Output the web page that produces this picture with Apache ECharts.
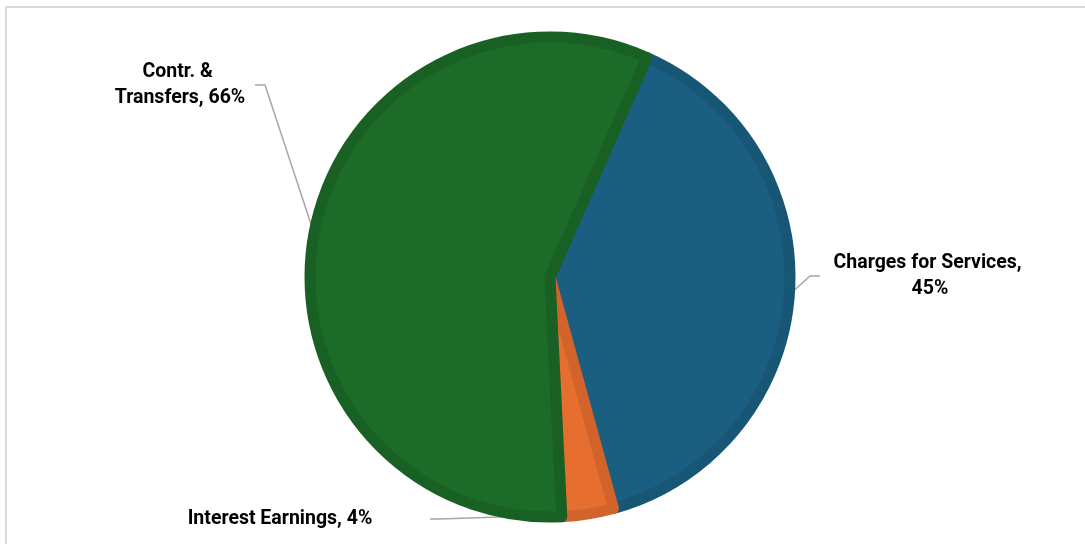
<!DOCTYPE html>
<html>
<head>
<meta charset="utf-8">
<script src="https://cdn.jsdelivr.net/npm/echarts@6/dist/echarts.min.js"></script>
<style>
  html, body { margin: 0; padding: 0; background: #fff; }
  #chart { width: 1085px; height: 544px; }
</style>
</head>
<body>
<div id="chart"></div>
<script>
// Revenue sources, shown as percentage shares
const categories = ['Charges for Services', 'Interest Earnings', 'Contr. & Transfers'];
const shares = [45, 4, 66];

// Slice fill and rim colours, in category order
const fills = ['#1a5f81', '#e66f30', '#1c6b28'];
const rims = ['#185676', '#d2632a', '#196024'];

// Where each label sits and how wide its text block may be
const labelSpots = {
  'Charges for Services': { x: 930, y: 276, width: 220 },
  'Interest Earnings': { x: 280, y: 519, width: 300 },
  'Contr. & Transfers': { x: 180, y: 85, width: 150 }
};

const chart = echarts.init(document.getElementById('chart'), null, { renderer: 'canvas' });

const data = categories.map((name, i) => ({
  name: name,
  value: shares[i],
  itemStyle: { color: fills[i], borderColor: rims[i] },
  label: { width: labelSpots[name].width }
}));

chart.setOption({
  animation: false,
  backgroundColor: '#ffffff',
  graphic: [{
    type: 'rect',
    shape: { x: 6, y: 7, width: 1100, height: 600 },
    style: { fill: 'none', stroke: '#d9d9d9', lineWidth: 2 },
    silent: true
  }],
  series: [{
    type: 'pie',
    center: [550, 277],
    radius: [0, 240],
    startAngle: 66.2,
    clockwise: true,
    data: data,
    itemStyle: { borderWidth: 11, borderJoin: 'round' },
    label: {
      show: true,
      formatter: p => p.name + ', ' + p.value + '%',
      overflow: 'break',
      align: 'center',
      color: '#000000',
      fontFamily: "Roboto, 'Liberation Sans', sans-serif",
      fontWeight: 'bold',
      fontSize: 19.5,
      lineHeight: 26
    },
    labelLine: {
      show: true,
      length: 20,
      length2: 10,
      lineStyle: { color: '#a6a6a6', width: 1.5 }
    },
    labelLayout: function (params) {
      const name = categories[params.dataIndex];
      const spot = labelSpots[name];
      return {
        x: spot.x,
        y: spot.y,
        align: 'center',
        verticalAlign: 'middle',
        moveOverlap: false
      };
    },
    emphasis: { disabled: true }
  }]
});
</script>
</body>
</html>
